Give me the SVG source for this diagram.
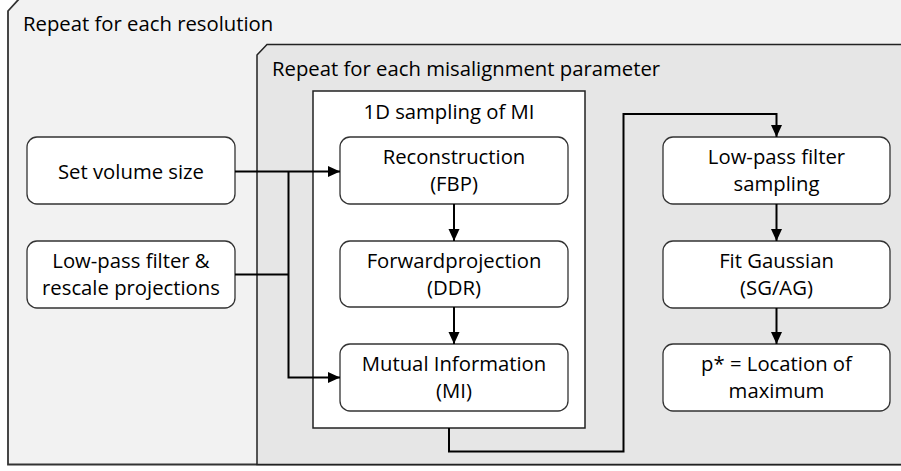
<svg xmlns="http://www.w3.org/2000/svg" width="901" height="471" viewBox="0 0 901 471">
<defs>
<marker id="ah" markerUnits="userSpaceOnUse" markerWidth="12" markerHeight="12" viewBox="0 0 12 12" refX="12" refY="6" orient="auto">
<path d="M0,0.5 L12,6 L0,11.5 Z" fill="#000"/>
</marker>
<style>
text{font-family:"Open Sans","Liberation Sans",sans-serif;font-size:20.3px;fill:#000;}
.c{text-anchor:middle;}
.box{fill:#fff;stroke:#333;stroke-width:1.3;}
.con{fill:none;stroke:#000;stroke-width:2;}
.arr{marker-end:url(#ah);}
</style>
</defs>
<g id="outer">
<path d="M8,11 L19,-1 H906 V464.5 H8 Z" fill="#f2f2f2" stroke="#333" stroke-width="1.8"/>
<text x="23" y="31">Repeat for each resolution</text>
</g>
<g id="inner">
<path d="M257,55 L267,44.5 H906 V464.5 H257 Z" fill="#e6e6e6" stroke="#222" stroke-width="1.5"/>
<text x="272" y="76">Repeat for each misalignment parameter</text>
</g>
<g id="sampling">
<rect x="313" y="91" width="272" height="337" fill="#fff" stroke="#222" stroke-width="1.5"/>
<text class="c" x="449" y="119">1D sampling of MI</text>
</g>
<g id="setvol">
<rect class="box" x="27" y="137" width="208" height="67" rx="10"/>
<text class="c" x="131" y="179">Set volume size</text>
</g>
<g id="lowpass">
<rect class="box" x="27" y="241" width="208" height="67" rx="10"/>
<text class="c" x="131" y="268">Low-pass filter &amp;</text>
<text class="c" x="131" y="295">rescale projections</text>
</g>
<g id="recon">
<rect class="box" x="340" y="137" width="228" height="67" rx="10"/>
<text class="c" x="454" y="164">Reconstruction</text>
<text class="c" x="454" y="191">(FBP)</text>
</g>
<g id="fwd">
<rect class="box" x="340" y="241" width="228" height="66" rx="10"/>
<text class="c" x="454" y="268">Forwardprojection</text>
<text class="c" x="454" y="295">(DDR)</text>
</g>
<g id="mi">
<rect class="box" x="340" y="344" width="228" height="67" rx="10"/>
<text class="c" x="454" y="371">Mutual Information</text>
<text class="c" x="454" y="398">(MI)</text>
</g>
<g id="lpsamp">
<rect class="box" x="663" y="137" width="227" height="67" rx="10"/>
<text class="c" x="776.5" y="164">Low-pass filter</text>
<text class="c" x="776.5" y="191">sampling</text>
</g>
<g id="fit">
<rect class="box" x="663" y="241" width="227" height="67" rx="10"/>
<text class="c" x="776.5" y="268">Fit Gaussian</text>
<text class="c" x="776.5" y="295">(SG/AG)</text>
</g>
<g id="pstar">
<rect class="box" x="663" y="344" width="227" height="67" rx="10"/>
<text class="c" x="776.5" y="371">p* = Location of</text>
<text class="c" x="776.5" y="398">maximum</text>
</g>
<g id="connectors">
<path class="con arr" d="M235,171.5 H340"/>
<path class="con" d="M235,274.5 H288.5"/>
<path class="con arr" d="M288.5,171.5 V377.5 H340"/>
<path class="con arr" d="M454,204 V241"/>
<path class="con arr" d="M454,307 V344"/>
<path class="con arr" d="M449,428 V451.5 H623.5 V114 H776.5 V137"/>
<path class="con arr" d="M776.5,204 V241"/>
<path class="con arr" d="M776.5,308 V344"/>
</g>
</svg>
